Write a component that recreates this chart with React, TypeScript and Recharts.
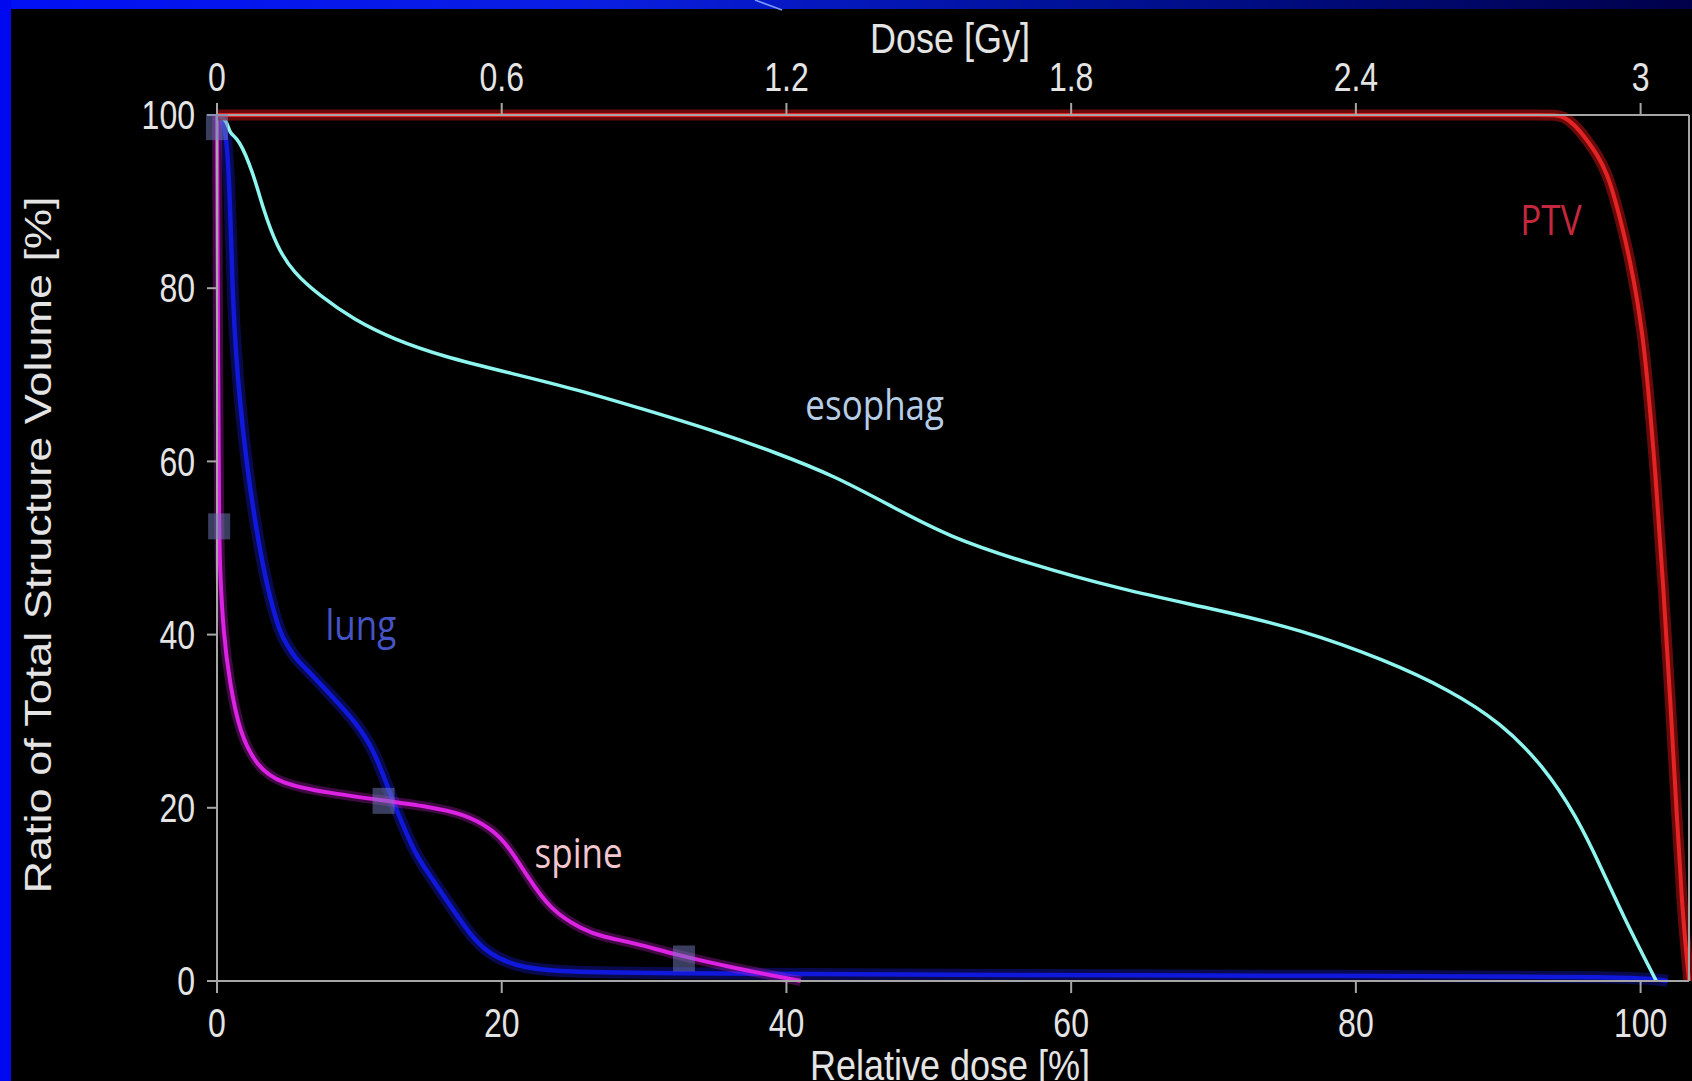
import React from "react";
import {
  ComposedChart,
  Line,
  Scatter,
  XAxis,
  YAxis,
  ReferenceDot,
} from "recharts";

// relative dose [%] on x, ratio of structure volume [%] on y
const relTicks = [0, 20, 40, 60, 80, 100];
const gyTicks = ["0", "0.6", "1.2", "1.8", "2.4", "3"];
const volumeTicks = [0, 20, 40, 60, 80, 100];

const ptvDose = [0, 90, 93, 94.0, 94.6, 95.3, 96.25, 97.0, 97.65, 98.2, 98.8, 99.3, 99.75, 100.1, 100.45, 101.05, 101.6, 102.1, 102.55, 102.9, 103.3, 103.4];
const ptvVolume = [100, 100, 100, 100, 99.8, 99.0, 97.1, 95.3, 93.2, 90.3, 86.5, 82.8, 78.8, 75.0, 70.0, 58.7, 45.4, 32.1, 18.9, 8.9, 1.6, 0];

const esoDose = [0, 0.68, 0.91, 1.5, 2.55, 3.25, 4.2, 5.36, 7.24, 9.58, 12.4, 15.9, 20.6, 25.3, 30.0, 34.6, 39.3, 43.4, 47.4, 51.4, 56.8, 63.5, 70.2, 76.1, 82.0, 86.6, 90.2, 93.2, 95.5, 97.2, 98.8, 101.1];
const esoVolume = [100, 99.5, 97.7, 97.4, 93.3, 89.1, 84.8, 81.8, 79.1, 76.4, 74.1, 72.1, 70.2, 68.3, 66.0, 63.7, 61.0, 58.3, 54.8, 51.3, 48.3, 45.2, 42.9, 40.6, 37.1, 33.6, 29.8, 24.8, 19.0, 13.2, 7.4, 0];

const lungDose = [0, 0.7, 0.95, 1.1, 1.35, 1.6, 2.1, 2.8, 3.5, 4.4, 5.0, 5.5, 6.1, 7.9, 9.8, 11.0, 11.9, 12.6, 13.8, 14.6, 16.1, 17.7, 19.0, 21.0, 23.5, 30, 50, 80, 100, 101.9];
const lungVolume = [100, 99, 88, 79, 72, 67.1, 59.4, 51.7, 45.6, 40.2, 38.6, 37.3, 36.3, 33.2, 29.8, 26.7, 22.8, 19.8, 15.1, 13.0, 9.4, 5.5, 3.2, 1.7, 1.1, 0.9, 0.7, 0.6, 0.5, 0];

const spineDose = [0, 0.05, 0.1, 0.15, 0.2, 0.44, 0.9, 1.6, 2.8, 4.4, 7.9, 11.45, 15.0, 17.3, 19.3, 20.5, 21.8, 23.4, 25.7, 27.1, 29.3, 32.3, 36.3, 41.0];
const spineVolume = [100, 80, 67, 52, 47.9, 40.2, 34.4, 28.6, 24.8, 22.8, 21.7, 20.9, 20.1, 19.3, 17.6, 15.5, 12.1, 8.2, 5.9, 5.1, 4.4, 3.0, 1.5, 0];

const markerDose = [0, 0.15, 11.7, 32.8];
const markerVolume = [98.6, 52.5, 20.8, 2.6];

const labelNames = ["PTV", "esophag", "lung", "spine"];
const labelDose = [93.7, 46.2, 10.1, 25.4];
const labelVolume = [86.2, 64.8, 39.4, 13.1];
const labelColors = ["#c4283c", "#b6cde6", "#4654c6", "#f2c6ce"];

const toPoints = (dose: number[], vol: number[]) =>
  dose.map((x, i) => ({ x, y: vol[i] }));

const ptv = toPoints(ptvDose, ptvVolume);
const esophag = toPoints(esoDose, esoVolume);
const lung = toPoints(lungDose, lungVolume);
const spine = toPoints(spineDose, spineVolume);
const markers = toPoints(markerDose, markerVolume);

const AXIS = "#a6a6a6";
const TICK_TEXT = "#e4e4e4";
const SANS = "'Liberation Sans', Arial, sans-serif";
const LABEL_FONT = "'Open Sans', 'Noto Sans', sans-serif";
const STRETCH = 1.25;

function BottomTick(props: any) {
  const { x, y, payload } = props;
  return (
    <g transform={`translate(${x},${y}) scale(1,${STRETCH})`}>
      <text x={0} y={35} textAnchor="middle" fill={TICK_TEXT} fontSize={32} fontFamily={SANS}>
        {payload.value}
      </text>
    </g>
  );
}

function TopTick(props: any) {
  const { x, y, payload } = props;
  const idx = relTicks.indexOf(payload.value);
  return (
    <g transform={`translate(${x},${y}) scale(1,${STRETCH})`}>
      <text x={0} y={-10} textAnchor="middle" fill={TICK_TEXT} fontSize={32} fontFamily={SANS}>
        {idx >= 0 ? gyTicks[idx] : ""}
      </text>
    </g>
  );
}

function LeftTick(props: any) {
  const { x, y, payload } = props;
  return (
    <g transform={`translate(${x},${y}) scale(1,${STRETCH})`}>
      <text x={-12} y={11.4} textAnchor="end" fill={TICK_TEXT} fontSize={32} fontFamily={SANS}>
        {payload.value}
      </text>
    </g>
  );
}

const xTitle = (text: string, baseline: number) => (props: any) => {
  const vb = props.viewBox;
  return (
    <g transform={`translate(${vb.x + vb.width / 2 - 3},${vb.y + baseline}) scale(1,1.2)`}>
      <text textAnchor="middle" fill={TICK_TEXT} fontSize={36} fontFamily={SANS}>
        {text}
      </text>
    </g>
  );
};

const yTitle = (props: any) => {
  const vb = props.viewBox;
  return (
    <g transform={`translate(51,${vb.y + vb.height / 2 - 3}) scale(1,${STRETCH}) rotate(-90)`}>
      <text textAnchor="middle" fill={TICK_TEXT} fontSize={36} fontFamily={SANS}>
        Ratio of Total Structure Volume [%]
      </text>
    </g>
  );
};

const curveLabel = (name: string, color: string) => (props: any) => {
  const vb = props.viewBox;
  return (
    <g transform={`translate(${vb.x},${vb.y}) scale(1,1.2)`}>
      <text textAnchor="middle" fill={color} fontSize={35} fontFamily={LABEL_FONT}>
        {name}
      </text>
    </g>
  );
};

const MarkerShape = (props: any) => (
  <rect
    x={props.cx - 11}
    y={props.cy - 13}
    width={22}
    height={26}
    fill="#747cbc"
    fillOpacity={0.5}
  />
);

export default function App() {
  return (
    <div
      style={{
        position: "fixed",
        left: 0,
        top: 0,
        width: 1692,
        height: 1081,
        background: "#000",
        overflow: "hidden",
      }}
    >
      <ComposedChart
        width={1692}
        height={1081}
        margin={{ top: 0, right: 0, bottom: 0, left: 0 }}
      >
        <XAxis
          xAxisId="rel"
          dataKey="x"
          type="number"
          orientation="bottom"
          domain={[0, 103.4]}
          ticks={relTicks}
          interval={0}
          height={100}
          stroke={AXIS}
          strokeWidth={2}
          tickSize={12}
          tickMargin={0}
          tick={<BottomTick />}
          label={{ content: xTitle("Relative dose [%]", 99) }}
        />
        <XAxis
          xAxisId="gy"
          dataKey="x"
          type="number"
          orientation="top"
          domain={[0, 103.4]}
          ticks={relTicks}
          interval={0}
          height={115}
          stroke={AXIS}
          strokeWidth={2}
          tickSize={12}
          tickMargin={0}
          tick={<TopTick />}
          label={{ content: xTitle("Dose [Gy]", 53) }}
        />
        <YAxis
          yAxisId="vol"
          dataKey="y"
          type="number"
          domain={[0, 100]}
          ticks={volumeTicks}
          interval={0}
          width={217}
          stroke={AXIS}
          strokeWidth={2}
          tickSize={10}
          tickMargin={0}
          tick={<LeftTick />}
          label={{ content: yTitle }}
        />
        <YAxis
          yAxisId="frame"
          orientation="right"
          type="number"
          domain={[0, 100]}
          width={3}
          stroke={AXIS}
          strokeWidth={2}
          tick={false}
          tickLine={false}
        />

        {/* lung */}
        <Line xAxisId="rel" yAxisId="vol" data={lung} dataKey="y" type="basis" dot={false}
          stroke="#1a22ff" strokeOpacity={0.3} strokeWidth={12} isAnimationActive={false} />
        <Line xAxisId="rel" yAxisId="vol" data={lung} dataKey="y" type="basis" dot={false}
          stroke="#1018dc" strokeWidth={4.5} isAnimationActive={false} />

        {/* spine */}
        <Line xAxisId="rel" yAxisId="vol" data={spine} dataKey="y" type="basis" dot={false}
          stroke="#d020d8" strokeOpacity={0.3} strokeWidth={10} isAnimationActive={false} />
        <Line xAxisId="rel" yAxisId="vol" data={spine} dataKey="y" type="basis" dot={false}
          stroke="#dc22e2" strokeWidth={4} isAnimationActive={false} />

        {/* esophag */}
        <Line xAxisId="rel" yAxisId="vol" data={esophag} dataKey="y" type="basis" dot={false}
          stroke="#8ef6ee" strokeWidth={3.5} isAnimationActive={false} />

        {/* PTV */}
        <Line xAxisId="rel" yAxisId="vol" data={ptv} dataKey="y" type="basis" dot={false}
          stroke="#7a0c0c" strokeOpacity={0.85} strokeWidth={11} isAnimationActive={false} />
        <Line xAxisId="rel" yAxisId="vol" data={ptv} dataKey="y" type="basis" dot={false}
          stroke="#e42424" strokeWidth={4} isAnimationActive={false} />

        {/* structure markers, tied to the dose axis on top (same scale) */}
        <Scatter xAxisId="gy" yAxisId="vol" data={markers} dataKey="y" shape={<MarkerShape />}
          isAnimationActive={false} />

        {labelNames.map((name, i) => (
          <ReferenceDot
            key={name}
            xAxisId="rel"
            yAxisId="vol"
            x={labelDose[i]}
            y={labelVolume[i]}
            r={0}
            fill="none"
            stroke="none"
            label={{ content: curveLabel(name, labelColors[i]) }}
          />
        ))}
      </ComposedChart>

      {/* slide frame */}
      <div
        style={{
          position: "absolute",
          left: 0,
          top: 0,
          width: 1692,
          height: 9,
          background:
            "linear-gradient(to right, #0010f4 0%, #0a1ee2 35%, #00129a 62%, #00004a 100%)",
        }}
      />
      <div
        style={{
          position: "absolute",
          left: 0,
          top: 0,
          width: 11,
          height: 1081,
          background: "#0008f0",
        }}
      />
      <svg
        width={40}
        height={12}
        style={{ position: "absolute", left: 750, top: 0 }}
      >
        <line x1={5} y1={0} x2={32} y2={10} stroke="#7a9cff" strokeWidth={1.5} />
      </svg>
    </div>
  );
}
